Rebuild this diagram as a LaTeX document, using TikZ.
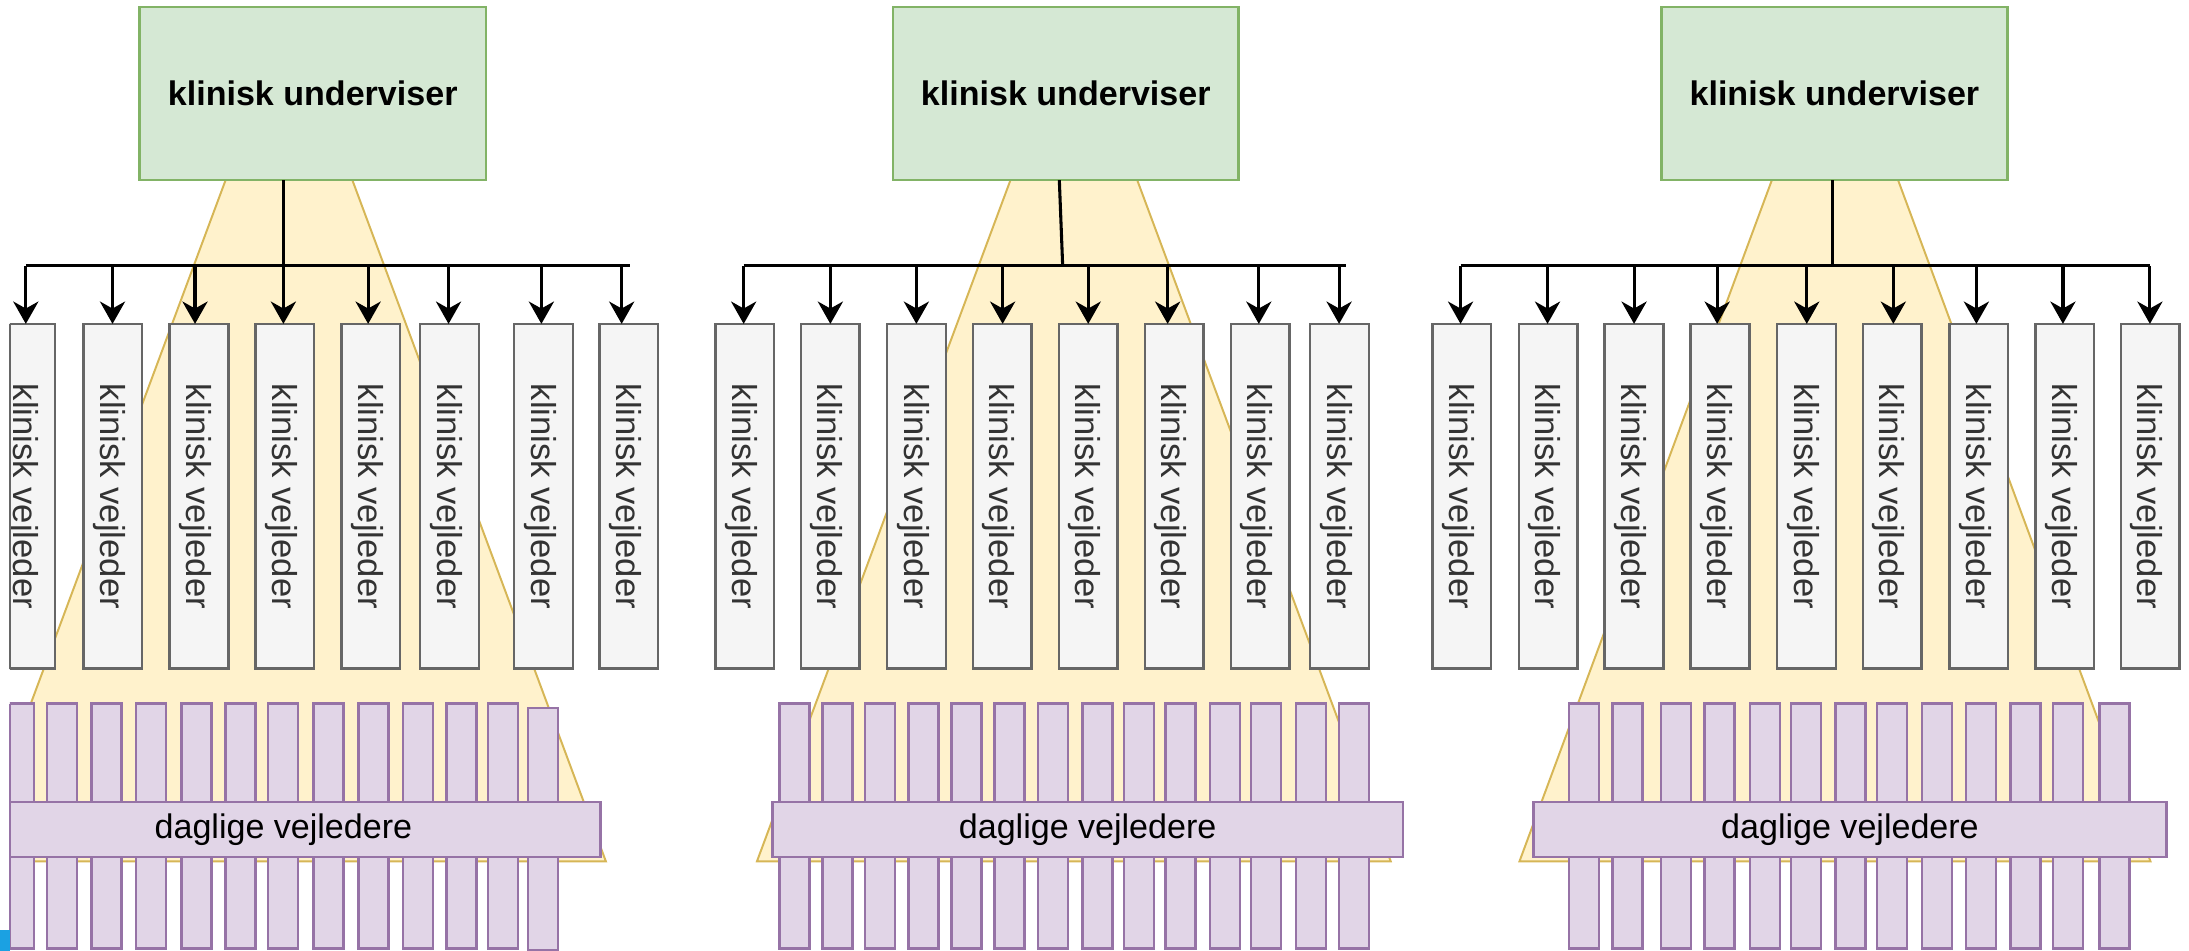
\documentclass[tikz,border=0pt]{standalone}
\usepackage{fontspec}
\setmainfont{Liberation Sans}
\usetikzlibrary{arrows.meta}
\definecolor{gfill}{HTML}{D5E8D4}
\definecolor{gline}{HTML}{82B366}
\definecolor{vfill}{HTML}{F5F5F5}
\definecolor{vline}{HTML}{666666}
\definecolor{vtxt}{HTML}{333333}
\definecolor{yfill}{HTML}{FFF2CC}
\definecolor{yline}{HTML}{D6B656}
\definecolor{pfill}{HTML}{E1D5E7}
\definecolor{pline}{HTML}{9673A6}
\definecolor{selblue}{HTML}{1BA1E2}
\begin{document}
\begin{tikzpicture}[x=0.5pt,y=-0.5pt,
  ubox/.style={draw=gline, fill=gfill, line width=0.9pt, inner sep=0pt, outer sep=0pt,
    anchor=north west, minimum width=124pt, minimum height=62pt,
    font=\fontsize{12.2}{14}\selectfont\bfseries},
  vbox/.style={draw=vline, fill=vfill, line width=0.9pt, inner sep=0pt, outer sep=0pt,
    anchor=north west, minimum width=21pt, minimum height=123.5pt},
  vlab/.style={rotate=-90, inner sep=0pt, text=vtxt, font=\fontsize{12.4}{14}\selectfont},
  pbar/.style={draw=pline, fill=pfill, line width=0.9pt, inner sep=0pt, outer sep=0pt,
    anchor=north west, minimum width=10.75pt, minimum height=87.75pt},
  dbox/.style={draw=pline, fill=pfill, line width=0.9pt, inner sep=0pt, outer sep=0pt,
    anchor=north west, minimum height=19.75pt, font=\fontsize{12.2}{14}\selectfont},
  tri/.style={fill=yfill, draw=yline, line width=0.7pt},
  wire/.style={line width=1.1pt, draw=black},
  arr/.style={line width=1.1pt, draw=black, -{Stealth[length=8pt,width=9pt,inset=2.5pt]}}
]
\useasboundingbox (0,0) rectangle (1568,681.2);
\begin{scope}
\clip (7,-10) rectangle (1600,700);
% triangles
\filldraw[tri] (207,7) -- (434,617) -- (-20,617) -- cycle;
\filldraw[tri] (769.2,7) -- (996.2,617) -- (542.2,617) -- cycle;
\filldraw[tri] (1314.4,7) -- (1540.4,617) -- (1088.4,617) -- cycle;
% green boxes
\node[ubox] (LU) at (100,5) {klinisk underviser};
\node[ubox, minimum width=123.9pt] (MU) at (639.5,5) {klinisk underviser};
\node[ubox] (RU) at (1190,5) {klinisk underviser};
% junction coordinates
\coordinate (Lj) at (203,190.5);
\coordinate (Mj) at (761.2,190.5);
\coordinate (Rj) at (1312.9,190.5);
\draw[wire] ([xshift=-10.5pt]LU.south) -- (Lj);
\draw[wire] ([xshift=-2.3pt]MU.south) -- (Mj);
\draw[wire] ([xshift=-0.55pt]RU.south) -- (Rj);
% buses
\coordinate (Lb0) at (18.5,190.5); \coordinate (Lb9) at (451,190.5);
\coordinate (Mb0) at (532.7,190.5); \coordinate (Mb9) at (964.3,190.5);
\coordinate (Rb0) at (1046.2,190.5); \coordinate (Rb9) at (1540,190.5);
\draw[wire] (Lb0) -- (Lb9);
\draw[wire] (Mb0) -- (Mb9);
\draw[wire] (Rb0) -- (Rb9);
% left vejleder boxes
\foreach \i/\x/\a in {1/-2.5/18.5, 2/59.8/80.6, 3/121.5/139.7, 4/183/203, 5/244.6/263.7, 6/301/321.3, 7/368.3/387.8, 8/429.4/445.3}{
  \node[vbox] (L\i) at (\x,232) {};
  \node[vlab] at ([xshift=-1.25pt]L\i.center) {klinisk vejleder};
  \coordinate (La\i) at (\a,190.5);
  \draw[arr] (La\i) -- (La\i |- L\i.north);
}
% middle vejleder boxes
\foreach \i/\x/\a in {1/512.4/532.7, 2/573.6/594.8, 3/635.5/656.4, 4/697/718.2, 5/758.6/779.5, 6/820.2/836.4, 7/881.6/901.7, 8/938.5/959.2}{
  \node[vbox] (M\i) at (\x,232) {};
  \node[vlab] at ([xshift=-1.25pt]M\i.center) {klinisk vejleder};
  \coordinate (Ma\i) at (\a,190.5);
  \draw[arr] (Ma\i) -- (Ma\i |- M\i.north);
}
% right vejleder boxes
\foreach \i/\x/\a in {1/1026.1/1046.2, 2/1088.1/1108.5, 3/1149.4/1170.5, 4/1211/1230, 5/1273/1294.2, 6/1334.3/1356.2, 7/1396.3/1415.7, 8/1458/1477.7, 9/1519.3/1540}{
  \node[vbox] (R\i) at (\x,232) {};
  \node[vlab] at ([xshift=-1.25pt]R\i.center) {klinisk vejleder};
  \coordinate (Ra\i) at (\a,190.5);
  \draw[arr] (Ra\i) -- (Ra\i |- R\i.north);
}
% purple bars
\foreach \x [count=\i] in {2.8, 33.6, 65.5, 97.5, 130, 161.4, 192.1, 224.7, 256.7, 288.7, 319.7, 349.4}{
  \node[pbar] (LP\i) at (\x,504) {};
}
\node[pbar, minimum height=86.8pt] (LP13) at (378.2,507) {};
\foreach \x [count=\i] in {558.3, 589.3, 619.7, 650.7, 681.4, 712.4, 743.4, 775.4, 805.1, 834.8, 866.8, 896.2, 928.2, 959.2}{
  \node[pbar] (MP\i) at (\x,504) {};
}
\foreach \x [count=\i] in {1123.7, 1155, 1189.6, 1221, 1253.4, 1283, 1314.7, 1344.6, 1376.7, 1408.4, 1440.2, 1470.5, 1504}{
  \node[pbar] (RP\i) at (\x,504) {};
}
% daglige vejledere
\node[dbox, minimum width=227pt] (LD) at (-24,574.5) {daglige vejledere};
\node[dbox, minimum width=225.9pt] (MD) at (553.2,574.5) {daglige vejledere};
\node[dbox, minimum width=226.75pt] (RD) at (1098.4,574.5) {daglige vejledere};
\end{scope}
% borders where the left edge cuts the shapes
\draw[vline, line width=0.9pt] (7.2,232) -- (7.2,479);
\draw[pline, line width=0.9pt] (7.2,504) -- (7.2,679.5);
% small blue mark at the bottom left
\fill[selblue] (0,666) rectangle (7,681.2);
\end{tikzpicture}
\end{document}
